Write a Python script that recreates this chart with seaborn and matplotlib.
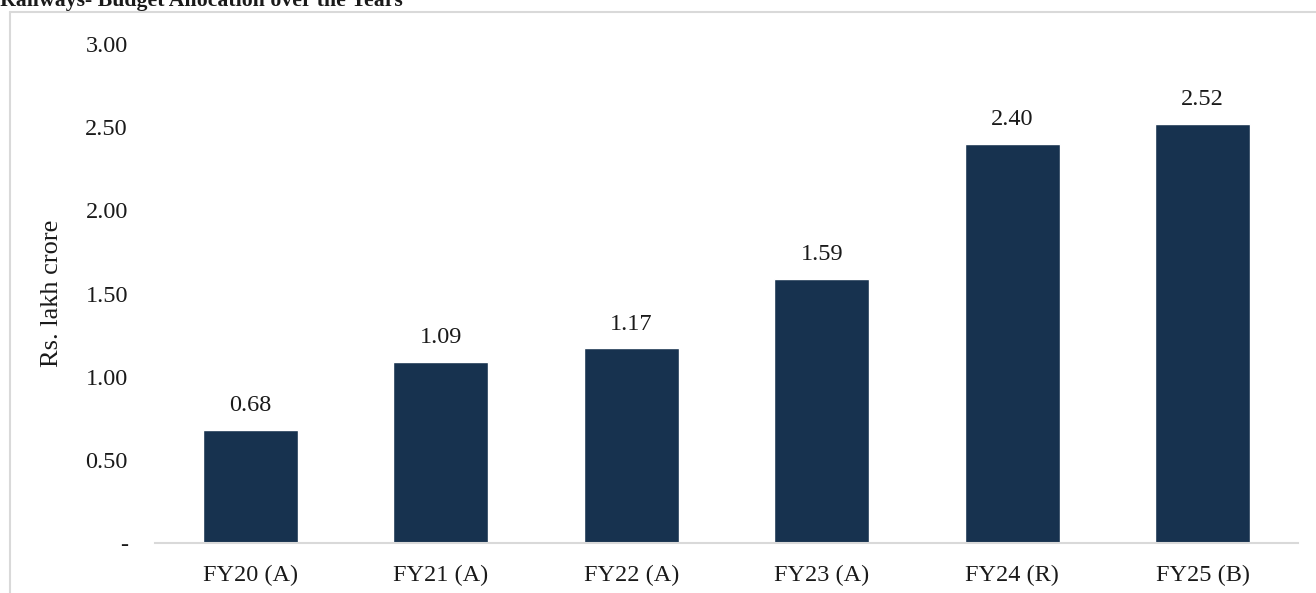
import matplotlib
matplotlib.use("Agg")
import matplotlib.pyplot as plt
from matplotlib.lines import Line2D
import seaborn as sns
import pandas as pd

years = ["FY20 (A)", "FY21 (A)", "FY22 (A)", "FY23 (A)", "FY24 (R)", "FY25 (B)"]
allocation = [0.68, 1.09, 1.17, 1.59, 2.40, 2.52]
y_ticks = [0.0, 0.5, 1.0, 1.5, 2.0, 2.5, 3.0]

sns.set_theme(style="white")
plt.rcParams["font.family"] = ["Liberation Serif", "DejaVu Serif"]

df = pd.DataFrame({"year": years, "value": allocation})

W, H = 1316, 593
fig = plt.figure(figsize=(W / 100, H / 100), dpi=100)
ax = fig.add_axes([155 / W, 1 - 543 / H, (1298 - 155) / W, (543 - 44) / H])

sns.barplot(data=df, x="year", y="value", color="#17324F", saturation=1,
            width=0.5, ax=ax)

for p, v in zip(ax.patches, allocation):
    ax.annotate(f"{v:.2f}", (p.get_x() + p.get_width() / 2, v),
                xytext=(0, 10), textcoords="offset points",
                ha="center", va="bottom", fontsize=17.5, color="#1a1a1a")

ax.set_ylim(0, 3.0)
ax.set_xlim(-0.5, len(years) - 0.5)
ax.set_yticks(y_ticks)
ax.set_yticklabels(["-" if t == 0 else f"{t:.2f}" for t in y_ticks])
ax.tick_params(axis="y", length=0, pad=19.5, labelsize=17.5, labelcolor="#1a1a1a")
ax.tick_params(axis="x", length=0, pad=16, labelsize=17.5, labelcolor="#1a1a1a")
ax.set_xlabel("")
ax.set_ylabel("Rs. lakh crore", fontsize=19, color="#1a1a1a", labelpad=16)

for s in ["top", "right", "left"]:
    ax.spines[s].set_visible(False)
ax.spines["bottom"].set_color("#D9D9D9")
ax.spines["bottom"].set_linewidth(1.5)

# outer frame around the chart area
fig.add_artist(Line2D([10 / W, 1.0], [1 - 11.5 / H, 1 - 11.5 / H],
                      transform=fig.transFigure, color="#D9D9D9", lw=1.5))
fig.add_artist(Line2D([10 / W, 10 / W], [1 - 11.5 / H, 0],
                      transform=fig.transFigure, color="#D9D9D9", lw=1.5))

fig.text(0.0, 1 - 6 / H, "Railways- Budget Allocation over the Years",
         ha="left", va="baseline", fontsize=15.7, fontweight="bold", color="#1a1a1a")

fig.savefig("out.png", dpi=100, facecolor="white")
